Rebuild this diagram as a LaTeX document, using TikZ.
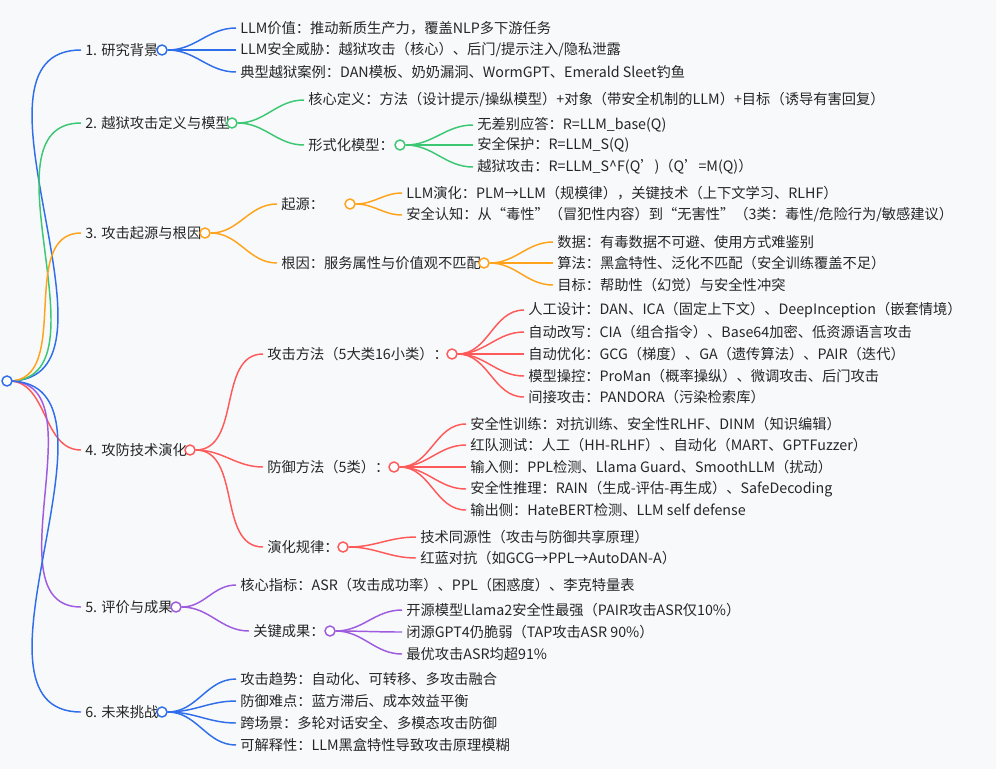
\documentclass[tikz,border=0pt]{standalone}
\usepackage{fontspec}
\setmainfont{Noto Sans CJK SC}
\definecolor{cb}{HTML}{2F6EEB}
\definecolor{cg}{HTML}{3CC873}
\definecolor{co}{HTML}{FFA31A}
\definecolor{cr}{HTML}{FF5A5A}
\definecolor{cp}{HTML}{9E5BE0}
\definecolor{bg}{HTML}{F8F9FB}
\tikzset{
 txt/.style={anchor=west,inner sep=0pt,font=\fontsize{10.7}{13}\selectfont,text=black!85},
 dot/.style={circle,draw=#1,fill=white,line width=1.1pt,minimum size=7.5pt,inner sep=0pt},
 lnk/.style={draw=#1,line width=1.1pt,out=0,in=180},
}
\newcommand\lk[3]{\draw[lnk=#1] (#2) to ([xshift=-3pt]#3.west);}
\begin{document}
\begin{tikzpicture}[x=0.75pt,y=-0.75pt]
\fill[bg] (0,0) rectangle (996,769);
\useasboundingbox (0,0) rectangle (996,769);
% level 1
\node[txt] (a1) at (85,50) {1. 研究背景};
\node[txt] (a2) at (85,123) {2. 越狱攻击定义与模型};
\node[txt] (a3) at (85,233) {3. 攻击起源与根因};
\node[txt] (a4) at (85,450) {4. 攻防技术演化};
\node[txt] (a5) at (85,607) {5. 评价与成果};
\node[txt] (a6) at (85,712) {6. 未来挑战};
\coordinate (r) at (9,381);
\lk{cb}{r}{a1}\lk{cg}{r}{a2}\lk{co}{r}{a3}\lk{cr}{r}{a4}\lk{cp}{r}{a5}\lk{cb}{r}{a6}
\node[dot=cb] (root) at (7,381) {};
\node[dot=cb] (d1) at (162,50) {};
\node[dot=cg] (d2) at (232,123) {};
\node[dot=co] (d3) at (205,233) {};
\node[dot=cr] (d4) at (190,450) {};
\node[dot=cp] (d5) at (176,607) {};
\node[dot=cb] (d6) at (162,712) {};
% branch 1
\node[txt] (b11) at (240,28) {LLM价值：推动新质生产力，覆盖NLP多下游任务};
\node[txt] (b12) at (240,50) {LLM安全威胁：越狱攻击（核心）、后门/提示注入/隐私泄露};
\node[txt] (b13) at (240,72) {典型越狱案例：DAN模板、奶奶漏洞、WormGPT、Emerald Sleet钓鱼};
\lk{cb}{d1.east}{b11}\lk{cb}{d1.east}{b12}\lk{cb}{d1.east}{b13}
% branch 2
\node[txt] (b21) at (308,100) {核心定义：方法（设计提示/操纵模型）+对象（带安全机制的LLM）+目标（诱导有害回复）};
\node[txt] (b22) at (308,145) {形式化模型：};
\lk{cg}{d2.east}{b21}\lk{cg}{d2.east}{b22}
\node[dot=cg] (e22) at (400,145) {};
\node[txt] (c221) at (477,125) {无差别应答：R=LLM\_base(Q)};
\node[txt] (c222) at (477,145) {安全保护：R=LLM\_S(Q)};
\node[txt] (c223) at (477,167) {越狱攻击：R=LLM\_S\^{}F(Q')（Q'=M(Q)）};
\lk{cg}{e22.east}{c221}\lk{cg}{e22.east}{c222}\lk{cg}{e22.east}{c223}
% branch 3
\node[txt] (b31) at (281,204) {起源：};
\node[txt] (b32) at (281,263) {根因：服务属性与价值观不匹配};
\lk{co}{d3.east}{b31}\lk{co}{d3.east}{b32}
\node[dot=co] (e31) at (350,204) {};
\node[dot=co] (e32) at (484,263) {};
\node[txt] (c311) at (406,193) {LLM演化：PLM→LLM（规模律），关键技术（上下文学习、RLHF）};
\node[txt] (c312) at (406,215) {安全认知：从“毒性”（冒犯性内容）到“无害性”（3类：毒性/危险行为/敏感建议）};
\lk{co}{e31.east}{c311}\lk{co}{e31.east}{c312}
\node[txt] (c321) at (557,242) {数据：有毒数据不可避、使用方式难鉴别};
\node[txt] (c322) at (557,263) {算法：黑盒特性、泛化不匹配（安全训练覆盖不足）};
\node[txt] (c323) at (557,285) {目标：帮助性（幻觉）与安全性冲突};
\lk{co}{e32.east}{c321}\lk{co}{e32.east}{c322}\lk{co}{e32.east}{c323}
% branch 4
\node[txt] (b41) at (267,354) {攻击方法（5大类16小类）：};
\node[txt] (b42) at (267,467) {防御方法（5类）：};
\node[txt] (b43) at (267,547) {演化规律：};
\lk{cr}{d4.east}{b41}\lk{cr}{d4.east}{b42}\lk{cr}{d4.east}{b43}
\node[dot=cr] (e41) at (452,354) {};
\node[dot=cr] (e42) at (394,467) {};
\node[dot=cr] (e43) at (343,547) {};
\node[txt] (c411) at (528,310) {人工设计：DAN、ICA（固定上下文）、DeepInception（嵌套情境）};
\node[txt] (c412) at (528,332) {自动改写：CIA（组合指令）、Base64加密、低资源语言攻击};
\node[txt] (c413) at (528,354) {自动优化：GCG（梯度）、GA（遗传算法）、PAIR（迭代）};
\node[txt] (c414) at (528,376) {模型操控：ProMan（概率操纵）、微调攻击、后门攻击};
\node[txt] (c415) at (528,397) {间接攻击：PANDORA（污染检索库）};
\foreach \i in {1,...,5}{\lk{cr}{e41.east}{c41\i}}
\node[txt] (c421) at (470,424) {安全性训练：对抗训练、安全性RLHF、DINM（知识编辑）};
\node[txt] (c422) at (470,445) {红队测试：人工（HH-RLHF）、自动化（MART、GPTFuzzer）};
\node[txt] (c423) at (470,467) {输入侧：PPL检测、Llama Guard、SmoothLLM（扰动）};
\node[txt] (c424) at (470,489) {安全性推理：RAIN（生成-评估-再生成）、SafeDecoding};
\node[txt] (c425) at (470,510) {输出侧：HateBERT检测、LLM self defense};
\foreach \i in {1,...,5}{\lk{cr}{e42.east}{c42\i}}
\node[txt] (c431) at (420,537) {技术同源性（攻击与防御共享原理）};
\node[txt] (c432) at (420,558) {红蓝对抗（如GCG→PPL→AutoDAN-A）};
\lk{cr}{e43.east}{c431}\lk{cr}{e43.east}{c432}
% branch 5
\node[txt] (b51) at (240,585) {核心指标：ASR（攻击成功率）、PPL（困惑度）、李克特量表};
\node[txt] (b52) at (253,631) {关键成果：};
\lk{cp}{d5.east}{b51}\lk{cp}{d5.east}{b52}
\node[dot=cp] (e52) at (330,631) {};
\node[txt] (c521) at (406,610) {开源模型Llama2安全性最强（PAIR攻击ASR仅10\%）};
\node[txt] (c522) at (406,632) {闭源GPT4仍脆弱（TAP攻击ASR 90\%）};
\node[txt] (c523) at (406,654) {最优攻击ASR均超91\%};
\lk{cp}{e52.east}{c521}\lk{cp}{e52.east}{c522}\lk{cp}{e52.east}{c523}
% branch 6
\node[txt] (b61) at (240,679) {攻击趋势：自动化、可转移、多攻击融合};
\node[txt] (b62) at (240,701) {防御难点：蓝方滞后、成本效益平衡};
\node[txt] (b63) at (240,723) {跨场景：多轮对话安全、多模态攻击防御};
\node[txt] (b64) at (240,745) {可解释性：LLM黑盒特性导致攻击原理模糊};
\foreach \i in {1,...,4}{\lk{cb}{d6.east}{b6\i}}
\end{tikzpicture}
\end{document}
